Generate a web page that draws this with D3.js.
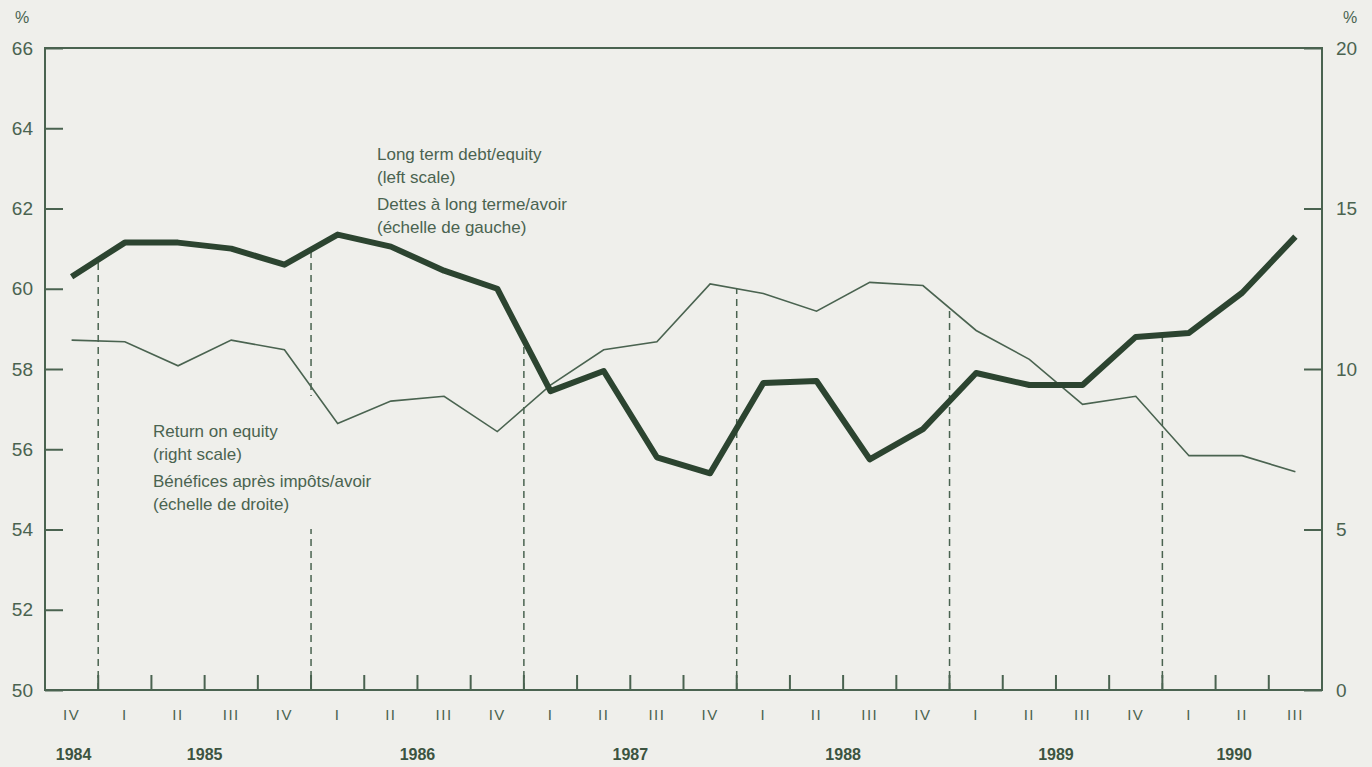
<!DOCTYPE html>
<html>
<head>
<meta charset="utf-8">
<script src="https://cdn.jsdelivr.net/npm/d3@7"></script>
<style>
  body { margin: 0; background: #efefeb; }
  svg { display: block; font-family: 'Liberation Sans', Arial, sans-serif; }
</style>
</head>
<body>
<div id="chart"></div>
<script>
// quarters 1984 IV .. 1990 III
const quarters = ['IV', 'I', 'II', 'III', 'IV', 'I', 'II', 'III', 'IV', 'I', 'II', 'III',
  'IV', 'I', 'II', 'III', 'IV', 'I', 'II', 'III', 'IV', 'I', 'II', 'III']
const years = [1984, 1985, 1985, 1985, 1985, 1986, 1986, 1986, 1986, 1987, 1987, 1987, 1987,
  1988, 1988, 1988, 1988, 1989, 1989, 1989, 1989, 1990, 1990, 1990]

// long term debt / equity, left scale (%)
const debtEquity = [60.3, 61.15, 61.15, 61.0, 60.6, 61.35, 61.05, 60.45, 60.0, 57.45, 57.95, 55.8,
  55.4, 57.65, 57.7, 55.75, 56.5, 57.9, 57.6, 57.6, 58.8, 58.9, 59.9, 61.3]

// return on equity, right scale (%)
const returnEquity = [10.9, 10.85, 10.1, 10.9, 10.6, 8.3, 9.0, 9.15, 8.05, 9.5, 10.6, 10.85,
  12.65, 12.35, 11.8, 12.7, 12.6, 11.2, 10.3, 8.9, 9.15, 7.3, 7.3, 6.8]

const leftTicks = [50, 52, 54, 56, 58, 60, 62, 64, 66]
const rightTicks = [0, 5, 10, 15, 20]

const margin = { top: 48, left: 45, right: 50, bottom: 77 }
const width = 1372 - margin.left - margin.right
const height = 767 - margin.top - margin.bottom

const ink = '#4a6350'
const dark = '#2c4430'
const paper = '#efefeb'

const svg = d3
  .select('#chart')
  .append('svg')
  .attr('width', width + margin.left + margin.right)
  .attr('height', height + margin.top + margin.bottom)
  .append('g')
  .attr('transform', 'translate(' + margin.left + ',' + margin.top + ')')

const idx = d3.range(quarters.length)
const xScale = d3.scaleBand().domain(idx).range([0, width])
const xMid = i => xScale(i) + xScale.bandwidth() / 2
const yLeft = d3.scaleLinear().domain([50, 66]).range([height, 0])
const yRight = d3.scaleLinear().domain([0, 20]).range([height, 0])

// frame
svg.append('rect')
  .attr('width', width)
  .attr('height', height)
  .attr('fill', 'none')
  .attr('stroke', ink)
  .attr('stroke-width', 2)

// left axis
const leftAxis = d3.axisRight(yLeft).tickValues(leftTicks).tickSize(18).tickFormat('')
svg.append('g').call(leftAxis)
svg.append('g')
  .selectAll('text')
  .data(leftTicks)
  .enter()
  .append('text')
  .attr('x', -12)
  .attr('y', d => yLeft(d))
  .attr('dy', '0.35em')
  .attr('text-anchor', 'end')
  .style('font-size', '19px')
  .attr('fill', ink)
  .text(d => d)

// right axis
const rightAxis = d3.axisLeft(yRight).tickValues(rightTicks).tickSize(18).tickFormat('')
svg.append('g').attr('transform', `translate(${width},0)`).call(rightAxis)
svg.append('g')
  .selectAll('text')
  .data(rightTicks)
  .enter()
  .append('text')
  .attr('x', width + 14)
  .attr('y', d => yRight(d))
  .attr('dy', '0.35em')
  .style('font-size', '19px')
  .attr('fill', ink)
  .text(d => d)

svg.selectAll('.domain').remove()
svg.selectAll('.tick line').attr('stroke', ink).attr('stroke-width', 2)

// % signs
svg.append('text').attr('x', -30).attr('y', -25).text('%')
  .style('font-size', '16px').attr('fill', ink)
svg.append('text').attr('x', width + 21).attr('y', -25).text('%')
  .style('font-size', '16px').attr('fill', ink)

// x ticks between quarters
svg.append('g')
  .selectAll('line')
  .data(idx.slice(1))
  .enter()
  .append('line')
  .attr('x1', d => xScale(d))
  .attr('x2', d => xScale(d))
  .attr('y1', height)
  .attr('y2', height - 15)
  .attr('stroke', ink)
  .attr('stroke-width', 2)

// quarter labels
svg.append('g')
  .selectAll('text')
  .data(idx)
  .enter()
  .append('text')
  .attr('x', d => xMid(d))
  .attr('y', height + 30)
  .attr('text-anchor', 'middle')
  .style('font-size', '15px')
  .style('letter-spacing', '1.5px')
  .attr('fill', ink)
  .text(d => quarters[d])

// year labels
const yearList = Array.from(new Set(years))
svg.append('g')
  .selectAll('text')
  .data(yearList)
  .enter()
  .append('text')
  .attr('x', yr => {
    const qs = idx.filter(i => years[i] === yr)
    if (qs.length === 4) return (xMid(qs[1]) + xMid(qs[2])) / 2
    if (qs.length === 1) return xMid(qs[0]) + 2
    return d3.mean(qs, xMid) - 8
  })
  .attr('y', height + 70)
  .attr('text-anchor', 'middle')
  .style('font-size', '16px')
  .style('font-weight', 'bold')
  .attr('fill', '#3c5441')
  .text(d => d)

// dashed year separators up to the higher line
const yearStarts = idx.filter(i => i > 0 && years[i] !== years[i - 1])
svg.append('g')
  .selectAll('line')
  .data(yearStarts)
  .enter()
  .append('line')
  .attr('x1', d => xScale(d))
  .attr('x2', d => xScale(d))
  .attr('y1', height)
  .attr('y2', d => {
    const a = (yLeft(debtEquity[d - 1]) + yLeft(debtEquity[d])) / 2
    const b = (yRight(returnEquity[d - 1]) + yRight(returnEquity[d])) / 2
    return Math.min(a, b)
  })
  .attr('stroke', ink)
  .attr('stroke-width', 1.5)
  .attr('stroke-dasharray', '7,5')

// paper behind the return-on-equity label hides the dashed line there
svg.append('rect')
  .attr('x', 100)
  .attr('y', 348)
  .attr('width', 235)
  .attr('height', 133)
  .attr('fill', paper)

// return on equity line
const roeLine = d3.line().x((d, i) => xMid(i)).y(d => yRight(d))
svg.append('path')
  .datum(returnEquity)
  .attr('d', roeLine)
  .attr('fill', 'none')
  .attr('stroke', ink)
  .attr('stroke-width', 1.6)

// debt / equity line
const debtLine = d3.line().x((d, i) => xMid(i)).y(d => yLeft(d))
svg.append('path')
  .datum(debtEquity)
  .attr('d', debtLine)
  .attr('fill', 'none')
  .attr('stroke', dark)
  .attr('stroke-width', 6)
  .attr('stroke-linejoin', 'round')

// annotations
const lineDy = [0, 23, 50, 73]
const debtLabel = ['Long term debt/equity', '(left scale)', 'Dettes à long terme/avoir', '(échelle de gauche)']
svg.append('g')
  .selectAll('text')
  .data(debtLabel)
  .enter()
  .append('text')
  .attr('x', 332)
  .attr('y', (d, i) => 112 + lineDy[i])
  .style('font-size', '17px')
  .attr('fill', ink)
  .text(d => d)

const roeLabel = ['Return on equity', '(right scale)', 'Bénéfices après impôts/avoir', '(échelle de droite)']
svg.append('g')
  .selectAll('text')
  .data(roeLabel)
  .enter()
  .append('text')
  .attr('x', 108)
  .attr('y', (d, i) => 389 + lineDy[i])
  .style('font-size', '17px')
  .attr('fill', ink)
  .text(d => d)
</script>
</body>
</html>
